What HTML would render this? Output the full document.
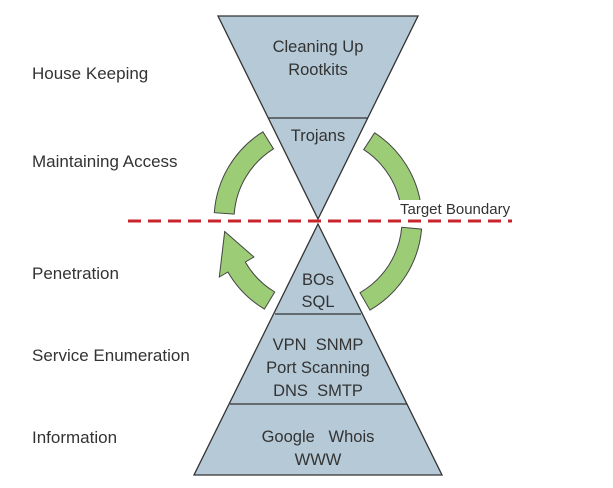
<!DOCTYPE html>
<html><head><meta charset="utf-8"><style>
body{margin:0;background:#fff;width:613px;height:488px;overflow:hidden}
svg{display:block}
text{font-family:"Liberation Sans",sans-serif;fill:#333;white-space:pre}
</style></head><body>
<svg id="s" width="613" height="488" viewBox="0 0 613 488">
<g font-size="17">
<text x="32" y="79">House Keeping</text>
<text x="32" y="167">Maintaining Access</text>
<text x="32" y="279">Penetration</text>
<text x="32" y="361">Service Enumeration</text>
<text x="32" y="443">Information</text>
</g>
<g id="arcs" fill="#9dcc77" stroke="#444" stroke-width="1"></g>
<polygon points="218,16 418,16 318,219" fill="#b5c9d7" stroke="#333" stroke-width="1.3"/>
<line x1="268" y1="118" x2="368" y2="118" stroke="#333" stroke-width="1.3"/>
<polygon points="318,224 442,475 194,475" fill="#b5c9d7" stroke="#333" stroke-width="1.3"/>
<line x1="275" y1="314" x2="361" y2="314" stroke="#333" stroke-width="1.3"/>
<line x1="230" y1="404" x2="407" y2="404" stroke="#333" stroke-width="1.3"/>
<line x1="128" y1="221" x2="512" y2="221" stroke="#c8242b" stroke-width="3" stroke-dasharray="13,7"/>
<rect x="398" y="200" width="124" height="18" fill="#fff"/>
<g font-size="15">
<text x="400" y="214">Target Boundary</text>
</g>
<g font-size="16.5" text-anchor="middle">
<text x="318" y="52">Cleaning Up</text>
<text x="318" y="75">Rootkits</text>
<text x="318" y="141">Trojans</text>
<text x="318" y="285">BOs</text>
<text x="318" y="307">SQL</text>
<text x="318" y="350">VPN  SNMP</text>
<text x="318" y="373">Port Scanning</text>
<text x="318" y="396">DNS  SMTP</text>
<text x="318" y="442">Google   Whois</text>
<text x="318" y="465">WWW</text>
</g>
</svg>
<script>
var cx=318,cy=220,R=104,r=84,g=document.getElementById('arcs');
function p(a,rad){a=a*Math.PI/180;return (cx+rad*Math.cos(a)).toFixed(1)+','+(cy+rad*Math.sin(a)).toFixed(1);}
function arc(a1,a2){var sw=a2>a1?1:0;var d='M'+p(a1,R)+' A'+R+','+R+' 0 0 '+sw+' '+p(a2,R)+' L'+p(a2,r)+' A'+r+','+r+' 0 0 '+(1-sw)+' '+p(a1,r)+'Z';
var e=document.createElementNS('http://www.w3.org/2000/svg','path');e.setAttribute('d',d);g.appendChild(e);}
arc(-122,-176);arc(-57,-6);arc(5,60);
var a1=121,a2=150,d='M'+p(a1,R)+' A'+R+','+R+' 0 0 1 '+p(a2,R)+' L'+p(a2,R+10)+' L'+p(173,94)+' L'+p(a2,r-10)+' L'+p(a2,r)+' A'+r+','+r+' 0 0 0 '+p(a1,r)+'Z';
var e=document.createElementNS('http://www.w3.org/2000/svg','path');e.setAttribute('d',d);g.appendChild(e);
</script>
</body></html>
